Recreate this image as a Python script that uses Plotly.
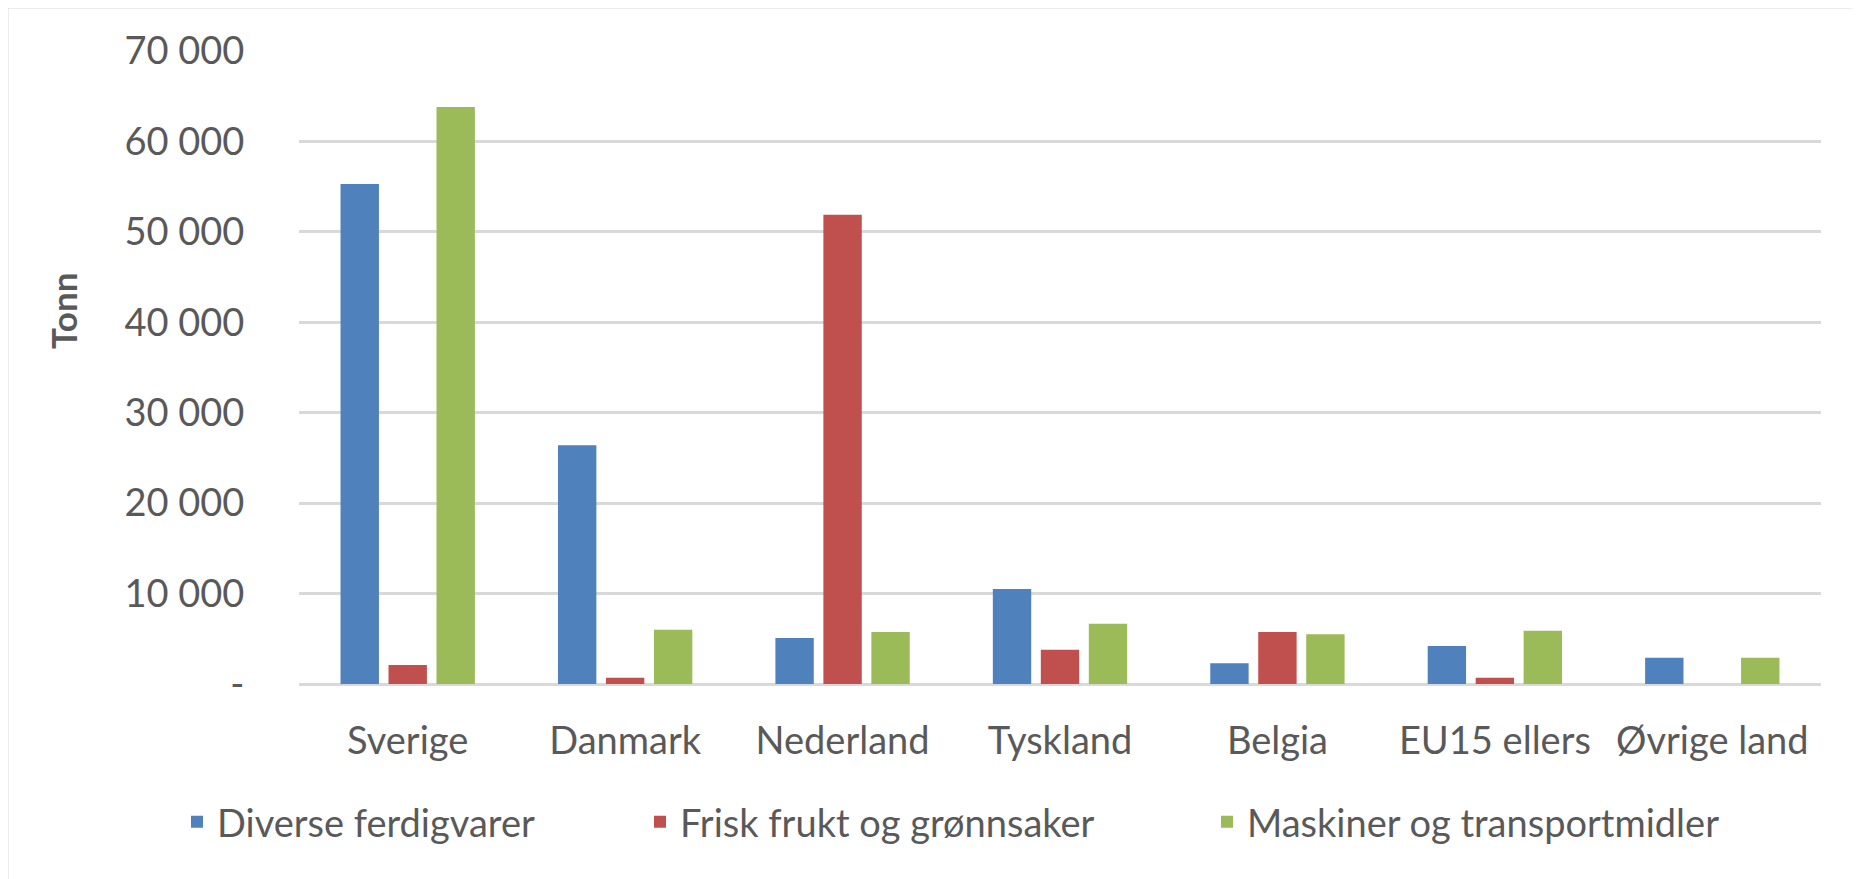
import plotly.graph_objects as go

categories = ["Sverige", "Danmark", "Nederland", "Tyskland", "Belgia", "EU15 ellers", "Øvrige land"]
diverse = [55300, 26400, 5100, 10500, 2300, 4200, 2900]
frisk = [2100, 700, 51900, 3800, 5750, 700, 0]
maskiner = [63800, 6000, 5750, 6650, 5500, 5900, 2900]
series_names = ["Diverse ferdigvarer", "Frisk frukt og grønnsaker", "Maskiner og transportmidler"]
tick_vals = [0, 10000, 20000, 30000, 40000, 50000, 60000, 70000]
tick_text = ["-", "10 000", "20 000", "30 000", "40 000", "50 000", "60 000", "70 000"]

colors = ["#4F81BD", "#C0504D", "#9BBB59"]
FONT = "Lato"
TXT = "#595959"

OFF = 8  # page body margin
W, H = 1860 - OFF, 879 - OFF
L, R, T, B = 299 - OFF, 39, 51 - OFF, 195
pw, ph = W - L - R, H - T - B

def px_x(x):
    return (x - OFF - L) / pw

def px_y(y):
    return (H - B - (y - OFF)) / ph

fig = go.Figure()
legend_widths = [418, 522, None]
for name, vals, col, lw in zip(series_names, [diverse, frisk, maskiner], colors, legend_widths):
    kw = {}
    if lw is not None:
        kw["legendwidth"] = lw
    fig.add_trace(go.Bar(x=categories, y=vals, name=name, marker_color=col,
                         marker_line_width=0, **kw))

fig.update_layout(
    width=W, height=H,
    margin=dict(l=L, r=R, t=T, b=B, autoexpand=False),
    paper_bgcolor="white", plot_bgcolor="white",
    barmode="group", bargap=0.338, bargroupgap=0.2,
    font=dict(family=FONT, size=38, color=TXT),
    showlegend=True,
    legend=dict(orientation="h", x=px_x(177), xanchor="left", y=px_y(822), yanchor="middle",
                font=dict(family=FONT, size=38, color=TXT), bgcolor="rgba(0,0,0,0)",
                borderwidth=0, itemclick=False),
    xaxis=dict(showgrid=False, showline=False, zeroline=False, ticks="outside", ticklen=23,
               tickcolor="rgba(0,0,0,0)", tickfont=dict(family=FONT, size=38, color=TXT)),
    yaxis=dict(range=[0, 70000], tickvals=tick_vals, ticktext=tick_text, showgrid=True,
               gridcolor="#D9D9D9", gridwidth=2.5, zeroline=True, zerolinecolor="#D9D9D9",
               zerolinewidth=2.5, showline=False, ticks="outside", ticklen=46,
               tickcolor="rgba(0,0,0,0)", tickfont=dict(family=FONT, size=38, color=TXT)),
    annotations=[dict(text="<b>Tonn</b>", xref="paper", yref="paper", x=px_x(63), y=px_y(311),
                      showarrow=False, textangle=-90, font=dict(family=FONT, size=35, color=TXT),
                      xanchor="center", yanchor="middle")],
    shapes=[dict(type="rect", xref="paper", yref="paper", x0=px_x(7), y0=px_y(900),
                 x1=px_x(1900), y1=px_y(7), line=dict(color="#D9D9D9", width=3),
                 fillcolor="rgba(0,0,0,0)", layer="below")],
)

fig.write_html("out.html")
